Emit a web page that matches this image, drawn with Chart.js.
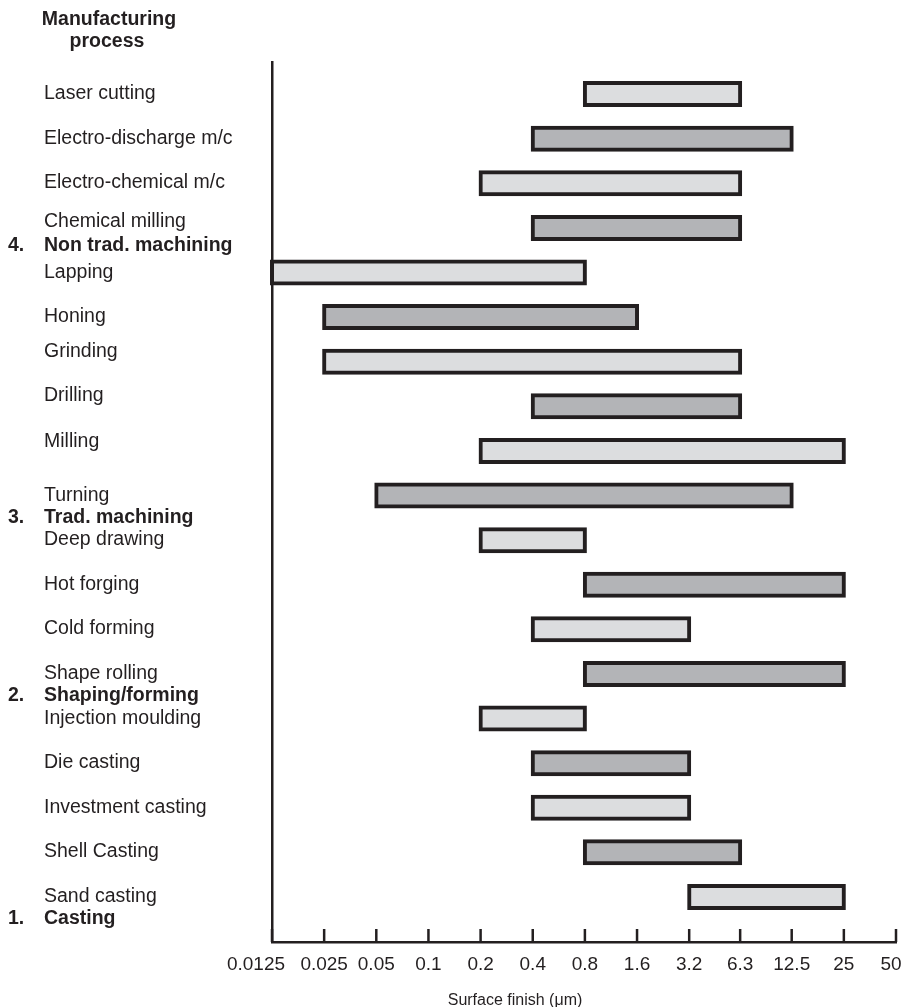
<!DOCTYPE html>
<html>
<head>
<meta charset="utf-8">
<title>Surface finish by manufacturing process</title>
<script src="https://cdn.jsdelivr.net/npm/chart.js@4.4.1/dist/chart.umd.min.js"></script>
<style>
  html, body { margin: 0; padding: 0; background: #fff; }
  #wrap { width: 908px; height: 1007px; position: relative; }
</style>
</head>
<body>
<div id="wrap"><canvas id="chart"></canvas></div>
<script>
// Processes, top to bottom
const processes = [
  'Laser cutting', 'Electro-discharge m/c', 'Electro-chemical m/c', 'Chemical milling',
  'Lapping', 'Honing', 'Grinding', 'Drilling', 'Milling', 'Turning',
  'Deep drawing', 'Hot forging', 'Cold forming', 'Shape rolling',
  'Injection moulding', 'Die casting', 'Investment casting', 'Shell Casting', 'Sand casting'
];
// Achievable surface finish range (µm)
const finishFrom = [0.8, 0.4, 0.2, 0.4, 0.0125, 0.025, 0.025, 0.4, 0.2, 0.05, 0.2, 0.8, 0.4, 0.8, 0.2, 0.4, 0.4, 0.8, 3.2];
const finishTo   = [6.3, 12.5, 6.3, 6.3, 0.8, 1.6, 6.3, 6.3, 25, 12.5, 0.8, 25, 3.2, 25, 0.8, 3.2, 3.2, 6.3, 25];

// Process families and the row slot they sit in
const groupNumbers = ['4.', '3.', '2.', '1.'];
const groupTitles = ['Non trad. machining', 'Trad. machining', 'Shaping/forming', 'Casting'];
const groupSlots = [3.4, 9.5, 13.5, 18.5];

const finishTicks = [0.0125, 0.025, 0.05, 0.1, 0.2, 0.4, 0.8, 1.6, 3.2, 6.3, 12.5, 25, 50];

const INK = '#231f20';
const LIGHT = '#dcdddf';
const DARK = '#b3b4b7';
const FONT = '"Liberation Sans", Arial, Helvetica, sans-serif';

// a few labels sit a little higher than their bar
const labelLift = { 'Chemical milling': -6, 'Grinding': -10, 'Drilling': -10, 'Milling': -9 };

const labelsPlugin = {
  id: 'processLabels',
  afterDraw(chart) {
    const { ctx, scales: { x, y } } = chart;
    ctx.save();
    ctx.fillStyle = INK;
    ctx.textBaseline = 'alphabetic';

    // column header
    ctx.font = 'bold 19.5px ' + FONT;
    ctx.textAlign = 'center';
    ctx.fillText('Manufacturing', 109, 25);
    ctx.fillText('process', 107, 47);

    // process names
    ctx.textAlign = 'left';
    ctx.font = '19.5px ' + FONT;
    processes.forEach((p, i) => {
      ctx.fillText(p, 44, y.getPixelForValue(i) + 5 + (labelLift[p] || 0));
    });

    // family headings
    ctx.font = 'bold 19.5px ' + FONT;
    groupTitles.forEach((g, i) => {
      const by = y.getPixelForValue(groupSlots[i]) + 5;
      ctx.fillText(groupNumbers[i], 8, by);
      ctx.fillText(g, 44, by);
    });

    // tick marks point up into the plot, labels below
    ctx.strokeStyle = INK;
    ctx.lineWidth = 2.5;
    const base = chart.chartArea.bottom;
    ctx.font = '19px ' + FONT;
    finishTicks.forEach((v, i) => {
      const px = x.getPixelForValue(v);
      ctx.beginPath();
      ctx.moveTo(px, base);
      ctx.lineTo(px, base - 13);
      ctx.stroke();
      // end labels are pulled inward so they don't collide or clip
      let lx = px;
      if (i === 0) lx = px - 16;
      if (i === finishTicks.length - 1) lx = px - 5;
      ctx.textAlign = 'center';
      ctx.fillText(String(v), lx, 970);
    });

    // axis title
    ctx.font = '16px ' + FONT;
    ctx.textAlign = 'center';
    ctx.fillText('Surface finish (\u03bcm)', 515, 1005);
    ctx.restore();
  }
};

new Chart(document.getElementById('chart'), {
  type: 'bar',
  data: {
    datasets: [{
      data: processes.map((p, i) => ({ x: [finishFrom[i], finishTo[i]], y: i })),
      backgroundColor: processes.map((p, i) => (i % 2 ? DARK : LIGHT)),
      borderColor: INK,
      borderWidth: 4,
      borderSkipped: false,
      inflateAmount: 2,
      barThickness: 22,
      clip: false
    }]
  },
  options: {
    indexAxis: 'y',
    responsive: true,
    maintainAspectRatio: false,
    animation: false,
    layout: { padding: { top: 62, right: 12, left: 0, bottom: 0 } },
    plugins: { legend: { display: false }, tooltip: { enabled: false } },
    scales: {
      x: {
        type: 'logarithmic',
        min: 0.0125,
        max: 50,
        afterBuildTicks: s => { s.ticks = finishTicks.map(v => ({ value: v })); },
        afterFit: s => { s.height = 65; },
        grid: { display: false, drawTicks: false },
        border: { display: true, color: INK, width: 2.5 },
        ticks: { display: false }
      },
      y: {
        type: 'linear',
        reverse: true,
        offset: false,
        min: -0.72,
        max: 19.01,
        afterFit: s => { s.width = 272; },
        grid: { display: false, drawTicks: false, offset: false },
        border: { display: true, color: INK, width: 2.5 },
        ticks: { display: false }
      }
    }
  },
  plugins: [labelsPlugin]
});
</script>
</body>
</html>
